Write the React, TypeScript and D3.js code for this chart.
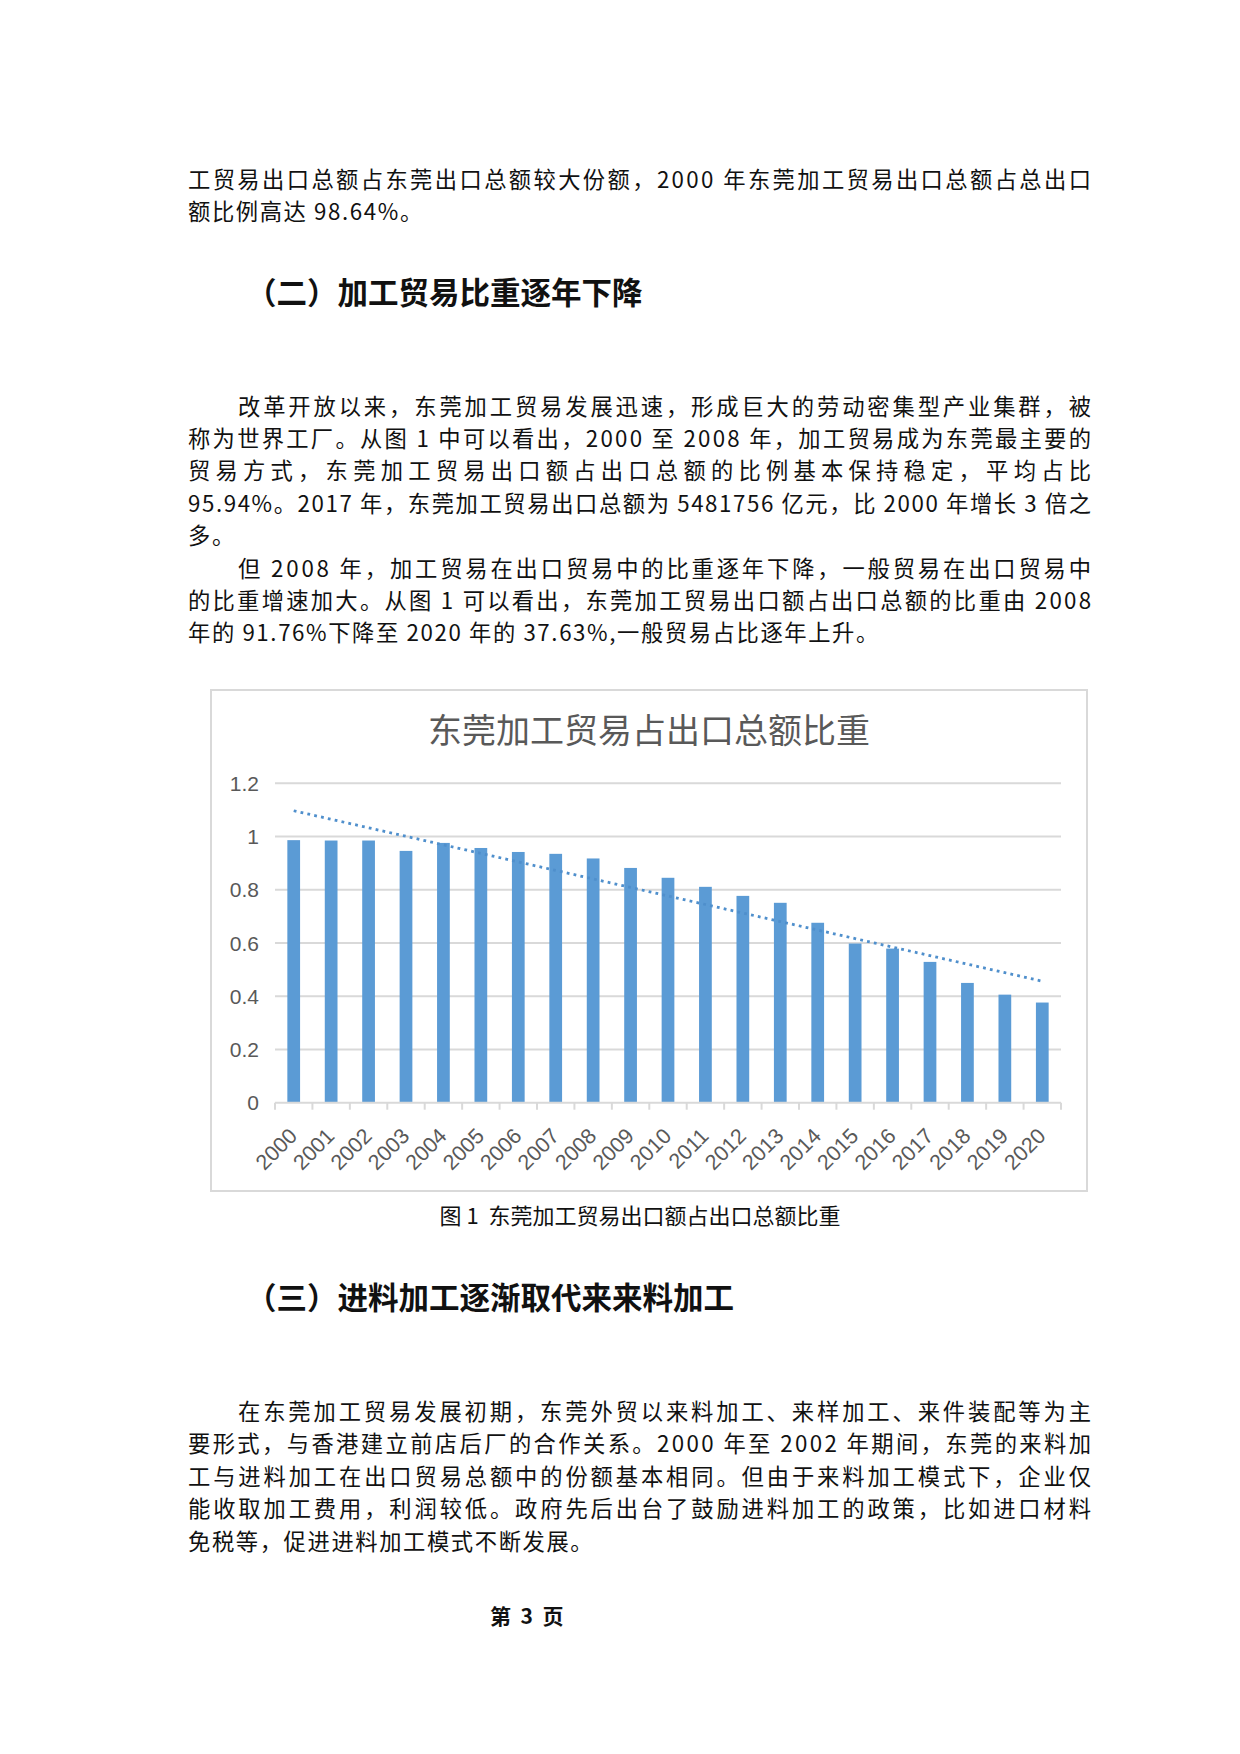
import React from 'react';
import * as d3 from 'd3';

// Page with embedded Excel-style column chart + linear trendline.

const years = [
  '2000', '2001', '2002', '2003', '2004', '2005', '2006', '2007', '2008', '2009', '2010',
  '2011', '2012', '2013', '2014', '2015', '2016', '2017', '2018', '2019', '2020',
];
const shares = [
  0.9864, 0.985, 0.985, 0.946, 0.976, 0.957, 0.942, 0.935, 0.9176, 0.882, 0.845,
  0.811, 0.777, 0.751, 0.676, 0.598, 0.579, 0.529, 0.45, 0.406, 0.3763,
];
const yTicks = [0, 0.2, 0.4, 0.6, 0.8, 1, 1.2];

const chartTitle = '东莞加工贸易占出口总额比重';
const caption = '图 1  东莞加工贸易出口额占出口总额比重';

// body text: [text, indent?, justify?]
const para1: [string, boolean, boolean][] = [
  ['工贸易出口总额占东莞出口总额较大份额，2000 年东莞加工贸易出口总额占总出口', false, true],
  ['额比例高达 98.64%。', false, false],
];
const para2: [string, boolean, boolean][] = [
  ['改革开放以来，东莞加工贸易发展迅速，形成巨大的劳动密集型产业集群，被', true, true],
  ['称为世界工厂。从图 1 中可以看出，2000 至 2008 年，加工贸易成为东莞最主要的', false, true],
  ['贸易方式，东莞加工贸易出口额占出口总额的比例基本保持稳定，平均占比', false, true],
  ['95.94%。2017 年，东莞加工贸易出口总额为 5481756 亿元，比 2000 年增长 3 倍之', false, true],
  ['多。', false, false],
  ['但 2008 年，加工贸易在出口贸易中的比重逐年下降，一般贸易在出口贸易中', true, true],
  ['的比重增速加大。从图 1 可以看出，东莞加工贸易出口额占出口总额的比重由 2008', false, true],
  ['年的 91.76%下降至 2020 年的 37.63%,一般贸易占比逐年上升。', false, false],
];
const para3: [string, boolean, boolean][] = [
  ['在东莞加工贸易发展初期，东莞外贸以来料加工、来样加工、来件装配等为主', true, true],
  ['要形式，与香港建立前店后厂的合作关系。2000 年至 2002 年期间，东莞的来料加', false, true],
  ['工与进料加工在出口贸易总额中的份额基本相同。但由于来料加工模式下，企业仅', false, true],
  ['能收取加工费用，利润较低。政府先后出台了鼓励进料加工的政策，比如进口材料', false, true],
  ['免税等，促进进料加工模式不断发展。', false, false],
];

const W = 1240;
const H = 1754;
const textLeft = 188;
const textRight = 1091;
const lineH = 32.4;
const bodySize = 22.3;
const bodyFont = '"Noto Sans CJK SC", "Noto Sans", sans-serif';
const chartFont = '"Liberation Sans", Arial, sans-serif';

function Paragraph({ lines, top }: { lines: [string, boolean, boolean][]; top: number }) {
  return (
    <g fontFamily={bodyFont} fontSize={bodySize} fill="#111">
      {lines.map(([t, indent, just], i) => {
        const x = indent ? textLeft + 50 : textLeft;
        return (
          <text
            key={i}
            x={x}
            y={top + i * lineH}
            textLength={just ? textRight - x : undefined}
            lengthAdjust={just ? 'spacing' : undefined}
            letterSpacing={just ? undefined : 1.6}
          >
            {t}
          </text>
        );
      })}
    </g>
  );
}

function Chart() {
  const frame = { x: 211, y: 690, w: 876, h: 501 };
  const plotL = 275;
  const plotR = 1061;
  const y0 = 1102.7;
  const yTop = 783.3;

  const x = d3.scaleBand<string>().domain(years).range([plotL, plotR]).padding(0);
  const y = d3.scaleLinear().domain([0, 1.2]).range([y0, yTop]);
  const step = x.step();
  const bw = step / 2.94;
  const cx = (d: string) => (x(d) ?? 0) + step / 2;

  // Linear least-squares trendline (Excel "linear" trend)
  const idx = shares.map((_, i) => i);
  const mx = d3.mean(idx) ?? 0;
  const my = d3.mean(shares) ?? 0;
  const slope =
    d3.sum(idx, (i) => (i - mx) * (shares[i] - my)) / d3.sum(idx, (i) => (i - mx) * (i - mx));
  const icpt = my - slope * mx;
  const trend = d3
    .line<number>()
    .x((i) => cx(years[i]))
    .y((i) => y(icpt + slope * i));

  return (
    <g>
      <rect x={frame.x} y={frame.y} width={frame.w} height={frame.h} fill="#fff" stroke="#d9d9d9" strokeWidth={2} />
      <text x={frame.x + frame.w / 2} y={743} textAnchor="middle" fontFamily={bodyFont} fontSize={34} fill="#595959">
        {chartTitle}
      </text>
      {yTicks.map((t) => (
        <g key={t}>
          {t > 0 && (
            <line x1={plotL} x2={plotR} y1={y(t)} y2={y(t)} stroke="#d9d9d9" strokeWidth={2} />
          )}
          <text x={259} y={y(t)} dy="0.36em" textAnchor="end" fontFamily={chartFont} fontSize={21} fill="#595959">
            {String(t)}
          </text>
        </g>
      ))}
      {years.map((d, i) => (
        <rect key={d} x={cx(d) - bw / 2} y={y(shares[i])} width={bw} height={y0 - y(shares[i])} fill="#5b9bd5" />
      ))}
      <line x1={plotL} x2={plotR} y1={y0} y2={y0} stroke="#d9d9d9" strokeWidth={2} />
      {[...years.map((d) => x(d) ?? 0), plotR].map((tx, i) => (
        <line key={i} x1={tx} x2={tx} y1={y0} y2={y0 + 7} stroke="#d9d9d9" strokeWidth={2} />
      ))}
      {years.map((d) => (
        <text
          key={d}
          transform={`translate(${cx(d) - 6},${y0 + 24}) rotate(-45)`}
          textAnchor="end"
          dy="0.7em"
          fontFamily={chartFont}
          fontSize={21.5}
          fill="#595959"
        >
          {d}
        </text>
      ))}
      <path d={trend(idx) ?? ''} fill="none" stroke="#4f8fcc" strokeWidth={2.8} strokeDasharray="2.8 4.2" />
    </g>
  );
}

export default function App() {
  return (
    <svg
      width={W}
      height={H}
      viewBox={`0 0 ${W} ${H}`}
      style={{ position: 'absolute', left: 0, top: 0, background: '#fff' }}
    >
      <rect width={W} height={H} fill="#fff" />
      <Paragraph lines={para1} top={188} />
      <text x={246} y={304} fontFamily={bodyFont} fontSize={30.5} fontWeight={700} fill="#111">
        （二）加工贸易比重逐年下降
      </text>
      <Paragraph lines={para2} top={414.5} />
      <Chart />
      <text x={640} y={1224} textAnchor="middle" fontFamily={bodyFont} fontSize={22} fill="#111" style={{ whiteSpace: 'pre' }}>
        {caption}
      </text>
      <text x={246} y={1309} fontFamily={bodyFont} fontSize={30.5} fontWeight={700} fill="#111">
        （三）进料加工逐渐取代来来料加工
      </text>
      <Paragraph lines={para3} top={1420} />
      <text x={490} y={1624} fontFamily={bodyFont} fontSize={21} fontWeight={700} fill="#111" style={{ whiteSpace: 'pre' }}>
        第  3  页
      </text>
    </svg>
  );
}
